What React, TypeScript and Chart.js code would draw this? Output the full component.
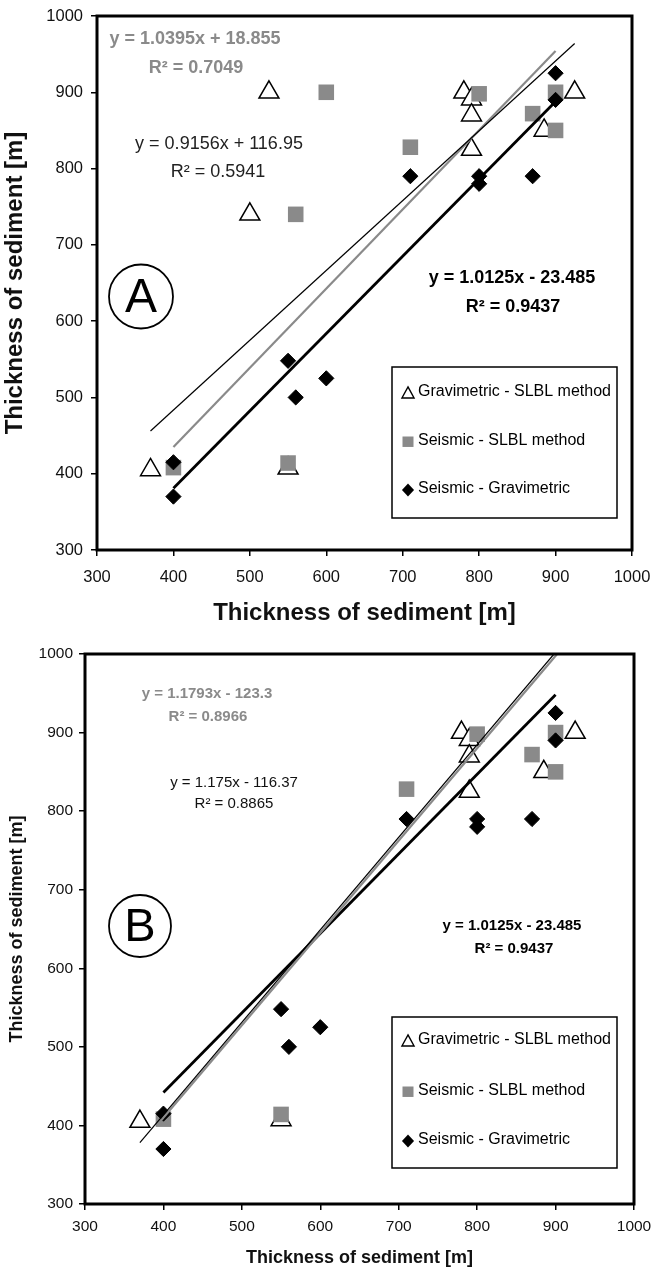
import React, { useEffect, useRef } from 'react';
import { Chart, registerables } from 'chart.js';

Chart.register(...registerables);
Chart.defaults.font.family = "'Liberation Sans', Arial, sans-serif";

// ---------- data ----------
const AXIS_TITLE = 'Thickness of sediment [m]';
const AXIS_MIN = 300;
const AXIS_MAX = 1000;
const AXIS_STEP = 100;

const SERIES_NAMES = ['Gravimetric - SLBL method', 'Seismic - SLBL method', 'Seismic - Gravimetric'];

// Panel A
// Gravimetric - SLBL method (open triangles)
const gravSlblAX = [370, 525, 500, 550, 780, 790, 790, 790, 885, 925];
const gravSlblAY = [405, 900, 740, 407, 900, 891, 870, 825, 850, 900];
// Seismic - SLBL method (grey squares)
const seisSlblAX = [400, 550, 560, 600, 710, 800, 870, 900, 900];
const seisSlblAY = [408, 414, 740, 900, 828, 898, 872, 900, 850];
// Seismic - Gravimetric (black diamonds)
const seisGravAX = [400, 400, 550, 560, 600, 710, 800, 800, 870, 900, 900];
const seisGravAY = [415, 370, 548, 500, 525, 790, 790, 780, 790, 925, 890];

// Panel B (outliers removed)
const gravSlblBX = [370, 550, 780, 790, 790, 790, 885, 925];
const gravSlblBY = [405, 407, 900, 891, 870, 825, 850, 900];
const seisSlblBX = [400, 550, 710, 800, 870, 900, 900];
const seisSlblBY = [408, 414, 828, 898, 872, 900, 850];
const seisGravBX = [400, 400, 550, 560, 600, 710, 800, 800, 870, 900, 900];
const seisGravBY = [415, 370, 548, 500, 525, 790, 790, 780, 790, 925, 890];

// Trend lines, panel A (end points)
const trendA_thinX = [370, 925];
const trendA_thinY = [456, 964];
const trendA_greyX = [400, 900];
const trendA_greyY = [435, 954];
const trendA_boldX = [400, 900];
const trendA_boldY = [381, 888];
// Trend lines, panel B
const trendB_thinX = [370, 898];
const trendB_thinY = [378, 1000];
const trendB_greyX = [395, 902];
const trendB_greyY = [404, 1000];
const trendB_boldX = [400, 900];
const trendB_boldY = [442, 948];

// Equation labels
const eqA = ['y = 1.0395x + 18.855', 'R² = 0.7049', 'y = 0.9156x + 116.95', 'R² = 0.5941', 'y = 1.0125x - 23.485', 'R² = 0.9437'];
const eqB = ['y = 1.1793x - 123.3', 'R² = 0.8966', 'y = 1.175x - 116.37', 'R² = 0.8865', 'y = 1.0125x - 23.485', 'R² = 0.9437'];

const GREY = '#8a8a8a';
const FONT = "'Liberation Sans', Arial, sans-serif";

const pts = (xs: number[], ys: number[]) => xs.map((x, i) => ({ x, y: ys[i] }));

type Panel = {
  letter: string;
  height: number;
  series: { xs: number[]; ys: number[] }[];
  pad: { top: number; right: number; bottom: number; left: number };
  yWidth: number;
  xHeight: number;
  tickFont: number;
  titleFont: number;
  xTitlePad: number;
  yTitlePad: number;
  tickLen: number;
  xTickPad: number;
  yTickPad: number;
  frame: number;
  eqs: string[];
  eqStyle: { color: string; bold: boolean }[];
  eqPos: [number, number][];
  eqFont: number;
  circle: { x: number; y: number; r: number; font: number; base: number };
  legend: { x0: number; y0: number; x1: number; y1: number; rows: number[]; mx: number; tx: number; font: number };
  trends: { xs: number[]; ys: number[]; color: string; width: number }[];
};

const panelA: Panel = {
  letter: 'A',
  height: 630,
  series: [
    { xs: gravSlblAX, ys: gravSlblAY },
    { xs: seisSlblAX, ys: seisSlblAY },
    { xs: seisGravAX, ys: seisGravAY },
  ],
  pad: { top: 16, right: 22, bottom: 0, left: 0 },
  yWidth: 97,
  xHeight: 80,
  tickFont: 16.5,
  titleFont: 24,
  xTitlePad: 5,
  yTitlePad: 3,
  tickLen: 6,
  xTickPad: 12,
  yTickPad: 8,
  frame: 3,
  eqs: eqA,
  eqStyle: [
    { color: GREY, bold: true }, { color: GREY, bold: true },
    { color: '#222', bold: false }, { color: '#222', bold: false },
    { color: '#000', bold: true }, { color: '#000', bold: true },
  ],
  eqPos: [[195, 39], [196, 68], [219, 144], [218, 172], [512, 278], [513, 307]],
  eqFont: 18,
  circle: { x: 141, y: 296.5, r: 32, font: 48, base: 312 },
  legend: { x0: 392, y0: 367, x1: 617, y1: 518, rows: [392, 441, 489], mx: 408, tx: 418, font: 16 },
  trends: [
    { xs: trendA_thinX, ys: trendA_thinY, color: '#000', width: 1.2 },
    { xs: trendA_greyX, ys: trendA_greyY, color: GREY, width: 2.2 },
    { xs: trendA_boldX, ys: trendA_boldY, color: '#000', width: 2.8 },
  ],
};

const panelB: Panel = {
  letter: 'B',
  height: 637,
  series: [
    { xs: gravSlblBX, ys: gravSlblBY },
    { xs: seisSlblBX, ys: seisSlblBY },
    { xs: seisGravBX, ys: seisGravBY },
  ],
  pad: { top: 24, right: 20, bottom: 0, left: 0 },
  yWidth: 85,
  xHeight: 63,
  tickFont: 15.5,
  titleFont: 18,
  xTitlePad: 0,
  yTitlePad: 8,
  tickLen: 6,
  xTickPad: 7,
  yTickPad: 6,
  frame: 3,
  eqs: eqB,
  eqStyle: [
    { color: GREY, bold: true }, { color: GREY, bold: true },
    { color: '#111', bold: false }, { color: '#111', bold: false },
    { color: '#000', bold: true }, { color: '#000', bold: true },
  ],
  eqPos: [[207, 64], [208, 87], [234, 153], [234, 174], [512, 296], [514, 319]],
  eqFont: 15,
  circle: { x: 140, y: 296, r: 31, font: 47, base: 311 },
  legend: { x0: 392, y0: 387, x1: 617, y1: 538, rows: [410, 461, 510], mx: 408, tx: 418, font: 16 },
  trends: [
    { xs: trendB_thinX, ys: trendB_thinY, color: '#000', width: 1.2 },
    { xs: trendB_greyX, ys: trendB_greyY, color: GREY, width: 2.2 },
    { xs: trendB_boldX, ys: trendB_boldY, color: '#000', width: 2.8 },
  ],
};

function drawMarker(ctx: CanvasRenderingContext2D, kind: number, x: number, y: number, s: number) {
  ctx.save();
  ctx.beginPath();
  if (kind === 0) {
    ctx.moveTo(x, y - s * 0.55);
    ctx.lineTo(x + s * 0.55, y + s * 0.45);
    ctx.lineTo(x - s * 0.55, y + s * 0.45);
    ctx.closePath();
    ctx.fillStyle = '#fff';
    ctx.fill();
    ctx.lineWidth = 1.4;
    ctx.strokeStyle = '#000';
    ctx.stroke();
  } else if (kind === 1) {
    ctx.fillStyle = GREY;
    ctx.fillRect(x - s / 2, y - s / 2, s, s * 0.95);
  } else {
    ctx.moveTo(x, y - s * 0.6);
    ctx.lineTo(x + s * 0.55, y);
    ctx.lineTo(x, y + s * 0.6);
    ctx.lineTo(x - s * 0.55, y);
    ctx.closePath();
    ctx.fillStyle = '#000';
    ctx.fill();
  }
  ctx.restore();
}

function makePlugin(p: Panel) {
  return {
    id: 'decor' + p.letter,
    afterDraw(chart: any) {
      const ctx: CanvasRenderingContext2D = chart.ctx;
      const a = chart.chartArea;
      ctx.save();
      // frame
      ctx.lineWidth = p.frame;
      ctx.strokeStyle = '#000';
      ctx.strokeRect(a.left, a.top, a.right - a.left, a.bottom - a.top);
      // equations
      ctx.textAlign = 'center';
      ctx.textBaseline = 'middle';
      p.eqs.forEach((t, i) => {
        const st = p.eqStyle[i];
        ctx.fillStyle = st.color;
        ctx.font = `${st.bold ? 'bold ' : ''}${p.eqFont}px ${FONT}`;
        ctx.fillText(t, p.eqPos[i][0], p.eqPos[i][1]);
      });
      // circled letter
      ctx.beginPath();
      ctx.arc(p.circle.x, p.circle.y, p.circle.r, 0, Math.PI * 2);
      ctx.lineWidth = 1.8;
      ctx.strokeStyle = '#000';
      ctx.stroke();
      ctx.fillStyle = '#000';
      ctx.font = `${p.circle.font}px ${FONT}`;
      ctx.textBaseline = 'alphabetic';
      ctx.fillText(p.letter, p.circle.x, p.circle.base);
      // legend
      const L = p.legend;
      ctx.fillStyle = '#fff';
      ctx.fillRect(L.x0, L.y0, L.x1 - L.x0, L.y1 - L.y0);
      ctx.lineWidth = 1.5;
      ctx.strokeStyle = '#000';
      ctx.strokeRect(L.x0, L.y0, L.x1 - L.x0, L.y1 - L.y0);
      const series = chart.data.datasets.filter((d: any) => d.isSeries);
      series
        .slice()
        .sort((u: any, v: any) => u.seriesIndex - v.seriesIndex)
        .forEach((d: any, i: number) => {
          drawMarker(ctx, d.seriesIndex, L.mx, L.rows[i] + 1, 11);
          ctx.fillStyle = '#000';
          ctx.font = `${L.font}px ${FONT}`;
          ctx.textAlign = 'left';
          ctx.textBaseline = 'middle';
          ctx.fillText(d.label, L.tx, L.rows[i]);
        });
      ctx.restore();
    },
  };
}

function ScatterPanel({ p }: { p: Panel }) {
  const ref = useRef<HTMLCanvasElement>(null);
  useEffect(() => {
    const trendSets = p.trends.map((t, i) => ({
      label: 'trend' + i,
      data: pts(t.xs, t.ys),
      showLine: true,
      borderColor: t.color,
      borderWidth: t.width,
      pointRadius: 0,
      fill: false,
      isSeries: false,
    }));
    const diamonds = {
      label: SERIES_NAMES[2],
      data: pts(p.series[2].xs, p.series[2].ys),
      pointStyle: 'rectRot',
      pointRadius: 7.6,
      backgroundColor: '#000',
      borderColor: '#000',
      borderWidth: 1,
      isSeries: true,
      seriesIndex: 2,
    };
    const squares = {
      label: SERIES_NAMES[1],
      data: pts(p.series[1].xs, p.series[1].ys),
      pointStyle: 'rect',
      pointRadius: 11,
      backgroundColor: GREY,
      borderColor: GREY,
      borderWidth: 0,
      isSeries: true,
      seriesIndex: 1,
    };
    const triangles = {
      label: SERIES_NAMES[0],
      data: pts(p.series[0].xs, p.series[0].ys),
      pointStyle: 'triangle',
      pointRadius: 11.5,
      backgroundColor: '#fff',
      borderColor: '#000',
      borderWidth: 1.5,
      isSeries: true,
      seriesIndex: 0,
    };
    const axisCommon = (isX: boolean) => ({
      type: 'linear',
      position: isX ? 'bottom' : 'left',
      min: AXIS_MIN,
      max: AXIS_MAX,
      ticks: {
        stepSize: AXIS_STEP,
        color: '#111',
        font: { size: p.tickFont },
        padding: isX ? p.xTickPad : p.yTickPad,
        callback: (v: any) => String(v),
      },
      grid: {
        display: true,
        drawOnChartArea: false,
        drawTicks: true,
        tickLength: p.tickLen,
        color: '#000',
        lineWidth: 1.5,
      },
      border: { display: false },
      title: {
        display: true,
        text: AXIS_TITLE,
        color: '#111',
        font: { size: p.titleFont, weight: 'bold', lineHeight: 1 },
        padding: isX ? { top: 0, bottom: p.xTitlePad } : { top: p.yTitlePad, bottom: 0 },
      },
      afterFit: (scale: any) => {
        if (isX) {
          scale.height = p.xHeight;
          scale.paddingLeft = 0;
          scale.paddingRight = 0;
        } else {
          scale.width = p.yWidth;
          scale.paddingTop = 0;
          scale.paddingBottom = 0;
        }
      },
    });
    const chart = new Chart(ref.current!, {
      type: 'scatter',
      data: { datasets: [...trendSets, diamonds, squares, triangles] as any },
      options: {
        responsive: false,
        animation: false,
        devicePixelRatio: 1,
        layout: { padding: p.pad },
        plugins: { legend: { display: false }, tooltip: { enabled: false } },
        scales: { x: axisCommon(true) as any, y: axisCommon(false) as any },
      },
      plugins: [makePlugin(p)],
    });
    return () => chart.destroy();
  }, [p]);
  return <canvas ref={ref} width={654} height={p.height} style={{ display: 'block', width: 654, height: p.height }} />;
}

export default function App() {
  return (
    <div style={{ position: 'absolute', left: 0, top: 0, width: 654, height: 1267, background: '#fff' }}>
      <ScatterPanel p={panelA} />
      <ScatterPanel p={panelB} />
    </div>
  );
}
